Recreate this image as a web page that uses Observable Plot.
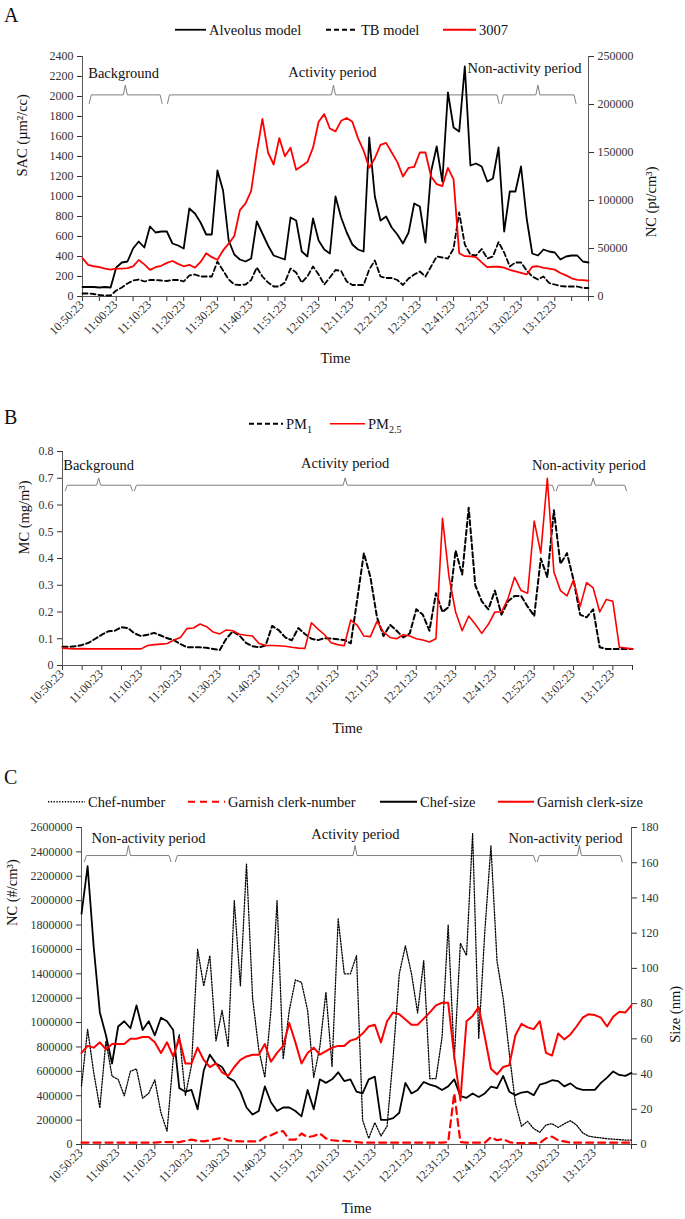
<!DOCTYPE html>
<html>
<head>
<meta charset="utf-8">
<script src="https://cdn.jsdelivr.net/npm/d3@7"></script>
<script src="https://cdn.jsdelivr.net/npm/@observablehq/plot@0.6"></script>
<style>
html,body{margin:0;padding:0;background:#fff}
#fig{position:relative;width:685px;height:1219px;overflow:hidden;font-family:"Liberation Serif","Times New Roman",serif;color:#111}
.t{position:absolute;white-space:nowrap;line-height:1;transform:translateY(-50%)}
.letter{font-size:20px}
.leg{display:flex;align-items:center;gap:3px;font-size:14.5px}
.leg sub{font-size:10px;vertical-align:-4px;line-height:0}
</style>
</head>
<body>
<div id="fig"></div>
<script>
// ---------- data ----------
const timeLabels = ["10:50:23","11:00:23","11:10:23","11:20:23","11:30:23","11:40:23","11:51:23","12:01:23","12:11:23","12:21:23","12:31:23","12:41:23","12:52:23","13:02:23","13:12:23"];
const STEP = 6; // samples per labelled time interval

// Panel A
const alveolus = [95,95,95,90,95,90,290,340,350,480,
550,490,700,640,650,650,530,510,480,880,
830,740,620,620,1260,1060,560,420,370,350,
380,750,630,510,410,390,370,790,760,450,
400,780,560,470,430,1000,790,640,520,470,
450,1590,1000,760,800,690,620,530,640,930,
900,540,1250,1500,1150,2040,1690,1650,2300,1310,
1330,1300,1150,1180,1490,650,1050,1050,1300,780,
430,410,470,450,440,370,400,410,410,350,340];
const tbModel = [30,30,25,15,10,10,60,90,130,160,
170,150,165,165,160,155,165,165,150,210,
220,200,200,200,350,260,170,120,115,120,
165,290,200,140,100,100,140,280,240,140,
200,300,220,120,190,265,255,150,115,115,
115,270,360,200,185,185,165,115,180,220,
250,200,300,400,390,380,480,840,520,420,
410,475,380,400,545,440,300,340,340,260,
200,170,200,135,120,105,100,100,100,85,85];
const nc3007 = [40000,33000,31500,30500,29000,28000,29000,29000,29500,31300,
38000,33500,27800,30500,32000,35000,37000,34000,31500,33000,
30000,36000,45000,41000,38300,48000,55000,63000,90000,97000,
110000,150000,185000,150000,137500,165000,146000,155000,132000,136000,
140000,155000,182000,190000,175000,172000,183000,186000,182000,165000,
152000,134000,144000,158000,160000,150000,140000,125000,134000,135000,
150000,150000,125000,117000,115000,134000,122000,45000,42000,41800,
41000,35500,30500,31000,31000,30000,27800,26100,24500,23000,
31000,31500,29800,29000,28000,24500,22000,19000,17400,17000,16400];

// Panel B
const pm1 = [.070,.070,.072,.077,.085,.100,.115,.128,.130,.143,
.140,.120,.110,.115,.122,.112,.102,.095,.080,.068,
.068,.068,.066,.062,.058,.100,.128,.112,.085,.072,
.068,.075,.148,.132,.105,.094,.140,.118,.100,.095,
.102,.101,.098,.095,.083,.25,.42,.33,.18,.11,
.152,.13,.105,.12,.21,.19,.13,.27,.20,.22,
.43,.34,.59,.30,.24,.21,.28,.19,.24,.26,
.26,.22,.185,.40,.33,.58,.38,.42,.32,.19,
.18,.21,.068,.062,.062,.062,.062,.062];
const pm25 = [.065,.063,.062,.063,.062,.062,.062,.062,.062,.062,
.062,.062,.062,.075,.078,.080,.082,.095,.105,.138,
.140,.155,.145,.125,.118,.133,.130,.117,.113,.110,
.082,.075,.075,.074,.072,.068,.065,.064,.160,.136,
.115,.085,.078,.074,.170,.150,.110,.108,.165,.125,
.105,.100,.115,.110,.100,.095,.088,.100,.55,.33,
.20,.13,.185,.154,.12,.154,.20,.20,.25,.33,
.28,.27,.54,.42,.70,.35,.28,.26,.32,.22,
.31,.29,.20,.247,.24,.068,.065,.062];

// Panel C
const chefNumber = [480000,945000,590000,300000,850000,560000,534000,400000,600000,620000,
380000,420000,530000,260000,110000,700000,900000,400000,650000,1600000,
1300000,1550000,850000,1100000,800000,2000000,1300000,2300000,1200000,780000,
550000,1100000,2000000,700000,1100000,1350000,1330000,1100000,550000,800000,
1250000,640000,1850000,1400000,1400000,1550000,200000,50000,180000,70000,
150000,720000,1400000,1630000,1400000,1080000,1507000,540000,540000,880000,
1800000,700000,1650000,1550000,2550000,870000,1750000,2450000,1500000,1200000,
750000,340000,150000,190000,130000,100000,160000,170000,140000,170000,
195000,160000,96000,68000,60000,55000,47000,44000,40000,36000,36000];
const garnishNumber = [15000,15000,15000,15000,15000,15000,15000,15000,15000,15000,
15000,15000,15000,20000,20000,20000,20000,30000,40000,30000,
25000,35000,45000,55000,35000,30000,25000,25000,25000,25000,
60000,75000,100000,110000,40000,40000,90000,60000,70000,90000,
50000,35000,30000,30000,25000,20000,15000,15000,15000,15000,
15000,15000,15000,15000,15000,15000,15000,15000,15000,15000,
20000,420000,20000,15000,15000,15000,15000,60000,35000,45000,
20000,12000,12000,12000,12000,12000,50000,65000,35000,25000,
15000,15000,15000,15000,15000,15000,15000,15000,15000,15000,15000];
const chefSize = [131,158,112,75,62,46,67,70,66,79,
65,70,62,72,70,65,32,30,31,20,
42,51,46,44,38,36,30,21,17,19,
33,24,19,21,21,19,16,31,20,37,
35,37,41,36,37,30,29,37,38.5,14,
14,15,18,35,29,31,35.5,34,33,31,
33,37,27.5,26.5,29,27,29,32.8,32,39,
30,28,29.5,30,28,34,35,36.5,36,33,
34.7,32,31,31,31,35,38,41.5,39.5,39,40.7];
const garnishSize = [52,56,55,58,54,57,57,57,60,60,
61,61,58,52,58,50,60,46,46,55,
48,44,46,41,39,44,48,50,51,51,
57,47,52,56,69,58,46,52,55,51,
53,55,56,56,59,60,63,67,68,58,
70,75,74,71,68,68,71.5,75,79,80.5,
80.5,50,25,70,73,78,61,43,39.8,44,
45,62,68.5,66.5,65.5,70,52,50.5,63,59.7,
62.5,67,72,74,73.5,72,67,72.5,75.4,75,79];

// axis ticks
const sacTicks = [0,200,400,600,800,1000,1200,1400,1600,1800,2000,2200,2400];
const ncTicksA = [0,50000,100000,150000,200000,250000];
const mcTicks = [0,0.1,0.2,0.3,0.4,0.5,0.6,0.7,0.8];
const ncTicksC = [0,200000,400000,600000,800000,1000000,1200000,1400000,1600000,1800000,2000000,2200000,2400000,2600000];
const sizeTicks = [0,20,40,60,80,100,120,140,160,180];

// period annotations (x in time-label units)
const periodsA = [
  {label:"Background", start:0.2, end:2.36, mid:1.27, tx:1.22, ty:2227},
  {label:"Activity period", start:2.52, end:12.35, mid:7.44, tx:7.41, ty:2243},
  {label:"Non-activity period", start:12.42, end:14.63, mid:13.5, tx:13.1, ty:2277}
];
const periodsB = [
  {label:"Background", start:0.07, end:1.78, mid:0.92, tx:0.92, ty:0.75},
  {label:"Activity period", start:1.83, end:12.51, mid:7.19, tx:7.19, ty:0.756},
  {label:"Non-activity period", start:12.56, end:14.35, mid:13.5, tx:13.39, ty:0.75}
];
const periodsC = [
  {label:"Non-activity period", start:0.08, end:2.44, mid:1.28, tx:1.83, ty:2507000},
  {label:"Activity period", start:2.56, end:12.38, mid:7.46, tx:7.47, ty:2543000},
  {label:"Non-activity period", start:12.43, end:14.75, mid:13.58, tx:13.2, ty:2507000}
];

// ---------- drawing ----------
const fig = document.getElementById("fig");
const FONT = '"Liberation Serif", "Times New Roman", serif';
const AX = "#595959", BR = "#7f7f7f", RED = "#ff0000";
const STYLE = {fontFamily: FONT, fontSize: "12px", color: "#333", background: "none", overflow: "visible"};
const rows = (arr, k = 1) => arr.map((v, i) => ({x: i / STEP, y: v * k}));

function bracketPts(periods, yLine, yHook, yTop, unitPerPx) {
  const pts = [];
  periods.forEach((p, j) => {
    const d = 2 * unitPerPx;
    [[p.start, yHook], [p.start + d, yLine], [p.mid - d, yLine], [p.mid, yTop],
     [p.mid + d, yLine], [p.end - d, yLine], [p.end, yHook]]
      .forEach(([x, y]) => pts.push({id: j, x, y}));
  });
  return pts;
}
const xLabels = (n) => Plot.text(d3.range(n), {x: d => d, text: d => timeLabels[d], frameAnchor: "bottom",
  rotate: -45, textAnchor: "end", dy: 9, dx: 2, fontSize: 12, fill: "#333"});
const title = (s, o) => Plot.text([s], {text: d => d, fontSize: 14.5, fill: "#111", ...o});
function place(svg, top) { svg.style.position = "absolute"; svg.style.left = "0px"; svg.style.top = top + "px"; fig.appendChild(svg); }

// Panel A
const kA = 2400 / 250000;
place(Plot.plot({
  width: 685, height: 380, marginTop: 56, marginBottom: 84, marginLeft: 82, marginRight: 97,
  x: {domain: [0, 15]}, y: {domain: [0, 2400]}, style: STYLE,
  marks: [
    Plot.axisY(sacTicks, {anchor: "left", tickSize: 5, tickPadding: 4, tickFormat: d => String(d), label: null, fontSize: 12}),
    Plot.axisY(ncTicksA.map(v => v * kA), {anchor: "right", tickSize: 5, tickPadding: 4, tickFormat: d => String(Math.round(d / kA)), label: null, fontSize: 12}),
    Plot.axisX(d3.range(0, 15.001, 0.5), {tickSize: 5, tickFormat: () => "", label: null}),
    xLabels(15),
    Plot.ruleX([0, 15], {stroke: AX}),
    Plot.ruleY([0], {stroke: AX}),
    Plot.line(bracketPts(periodsA, 2016, 1930, 2115, 15 / 506), {x: "x", y: "y", z: "id", stroke: BR, strokeWidth: 1}),
    Plot.text(periodsA, {x: "tx", y: "ty", text: "label", fontSize: 14.5, fill: "#111"}),
    Plot.line(rows(alveolus), {x: "x", y: "y", stroke: "#000", strokeWidth: 1.8}),
    Plot.line(rows(tbModel), {x: "x", y: "y", stroke: "#000", strokeWidth: 1.8, strokeDasharray: "5,3"}),
    Plot.line(rows(nc3007, kA), {x: "x", y: "y", stroke: RED, strokeWidth: 1.8}),
    title("Time", {frameAnchor: "bottom", dy: 66}),
    title("SAC (µm²/cc)", {frameAnchor: "left", dx: -60, rotate: -90}),
    title("NC (pt/cm³)", {frameAnchor: "right", dx: 63, dy: -10, rotate: -90})
  ]
}), 0);

// Panel B
place(Plot.plot({
  width: 685, height: 360, marginTop: 56, marginBottom: 90, marginLeft: 62, marginRight: 53,
  x: {domain: [0, 14.5]}, y: {domain: [0, 0.8]}, style: STYLE,
  marks: [
    Plot.axisY(mcTicks, {anchor: "left", tickSize: 5, tickPadding: 4, tickFormat: d => d === 0 ? "0" : d.toFixed(1), label: null, fontSize: 12}),
    Plot.axisX(d3.range(0, 14.501, 0.5), {tickSize: 5, tickFormat: () => "", label: null}),
    xLabels(15),
    Plot.ruleX([0], {stroke: AX}),
    Plot.ruleY([0], {stroke: AX}),
    Plot.line(bracketPts(periodsB, 0.674, 0.653, 0.701, 14.5 / 570), {x: "x", y: "y", z: "id", stroke: BR, strokeWidth: 1}),
    Plot.text(periodsB, {x: "tx", y: "ty", text: "label", fontSize: 14.5, fill: "#111"}),
    Plot.line(rows(pm1), {x: "x", y: "y", stroke: "#000", strokeWidth: 2, strokeDasharray: "5,3"}),
    Plot.line(rows(pm25), {x: "x", y: "y", stroke: RED, strokeWidth: 1.6}),
    title("Time", {frameAnchor: "bottom", dy: 67}),
    title("MC (mg/m³)", {frameAnchor: "left", dx: -38, dy: -4, rotate: -90})
  ]
}), 395);

// Panel C
const kC = 2600000 / 180;
place(Plot.plot({
  width: 685, height: 448, marginTop: 56, marginBottom: 75, marginLeft: 81, marginRight: 54,
  x: {domain: [0, 15]}, y: {domain: [0, 2600000]}, style: STYLE,
  marks: [
    Plot.axisY(ncTicksC, {anchor: "left", tickSize: 5, tickPadding: 4, tickFormat: d => String(d), label: null, fontSize: 12}),
    Plot.axisY(sizeTicks.map(v => v * kC), {anchor: "right", tickSize: 5, tickPadding: 4, tickFormat: d => String(Math.round(d / kC)), label: null, fontSize: 12}),
    Plot.axisX(d3.range(0, 15.001, 0.5), {tickSize: 5, tickFormat: () => "", label: null}),
    xLabels(15),
    Plot.ruleX([0, 15], {stroke: AX}),
    Plot.ruleY([0], {stroke: AX}),
    Plot.line(bracketPts(periodsC, 2370000, 2320000, 2452000, 15 / 550), {x: "x", y: "y", z: "id", stroke: BR, strokeWidth: 1}),
    Plot.text(periodsC, {x: "tx", y: "ty", text: "label", fontSize: 14.5, fill: "#111"}),
    Plot.line(rows(chefNumber), {x: "x", y: "y", stroke: "#000", strokeWidth: 1.3, strokeDasharray: "1.3,1.5"}),
    Plot.line(rows(chefSize, kC), {x: "x", y: "y", stroke: "#000", strokeWidth: 1.8}),
    Plot.line(rows(garnishSize, kC), {x: "x", y: "y", stroke: RED, strokeWidth: 2}),
    Plot.line(rows(garnishNumber), {x: "x", y: "y", stroke: RED, strokeWidth: 2.2, strokeDasharray: "7,5"}),
    title("Time", {frameAnchor: "bottom", dy: 68}),
    title("NC (#/cm³)", {frameAnchor: "left", dx: -69, dy: -60, rotate: -90}),
    title("Size (nm)", {frameAnchor: "right", dx: 44, rotate: -90})
  ]
}), 771);

// ---------- panel letters and legends ----------
function text(html, left, top, cls) {
  const d = document.createElement("div");
  d.className = "t " + (cls || "");
  d.style.left = left + "px"; d.style.top = top + "px";
  d.innerHTML = html;
  fig.appendChild(d);
}
text("A", 4, 15, "letter");
text("B", 4, 417, "letter");
text("C", 4, 777, "letter");

function legend(items, y) {
  for (const it of items) {
    const sw = `<svg width="${it.w}" height="6" style="overflow:visible"><line x1="0" y1="3" x2="${it.w}" y2="3" stroke="${it.stroke}" stroke-width="${it.sw}" stroke-dasharray="${it.dash || ""}"/></svg>`;
    text(sw + `<span>${it.label}</span>`, it.left, y, "leg");
  }
}
legend([
  {left: 175, w: 31, stroke: "#000", sw: 1.8, label: "Alveolus model"},
  {left: 326, w: 32, stroke: "#000", sw: 1.8, dash: "5,3", label: "TB model"},
  {left: 443, w: 33, stroke: RED, sw: 1.8, label: "3007"}
], 30);
legend([
  {left: 249, w: 34, stroke: "#000", sw: 2, dash: "5,3", label: "PM<sub>1</sub>"},
  {left: 330, w: 35, stroke: RED, sw: 1.6, label: "PM<sub>2.5</sub>"}
], 424);
legend([
  {left: 48, w: 37, stroke: "#000", sw: 1.3, dash: "1.3,1.5", label: "Chef-number"},
  {left: 188, w: 37, stroke: RED, sw: 2.2, dash: "7,5", label: "Garnish clerk-number"},
  {left: 380, w: 37, stroke: "#000", sw: 1.8, label: "Chef-size"},
  {left: 498, w: 36, stroke: RED, sw: 2, label: "Garnish clerk-size"}
], 802);
</script>
</body>
</html>
